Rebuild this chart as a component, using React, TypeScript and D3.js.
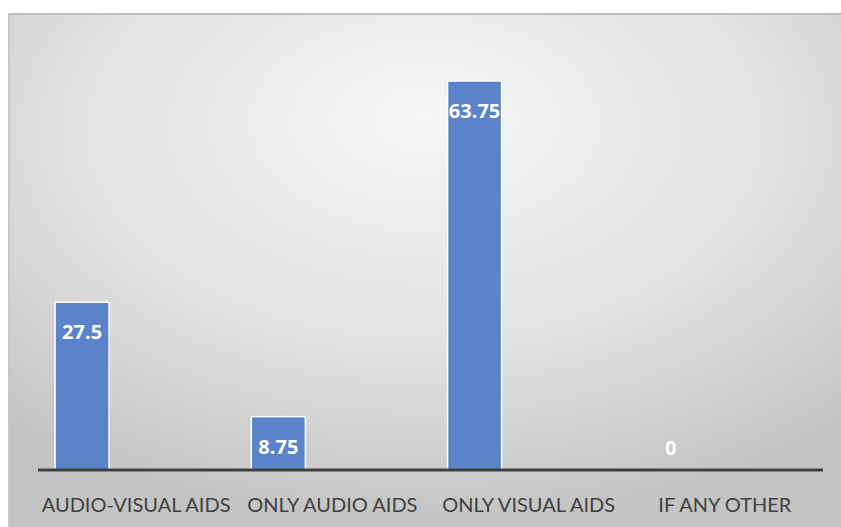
import React from "react";
import * as d3 from "d3";

const categories = ["AUDIO-VISUAL AIDS", "ONLY AUDIO AIDS", "ONLY VISUAL AIDS", "IF ANY OTHER"];
const values = [27.5, 8.75, 63.75, 0];
const valueLabels = ["27.5", "8.75", "63.75", "0"];

const W = 841;
const H = 527;
const plotLeft = 38;
const plotRight = 823;
const axisY = 470;

export default function App() {
  const x = d3.scaleBand<string>().domain(categories).range([plotLeft, plotRight]).paddingInner(0).paddingOuter(0);
  const y = d3.scaleLinear().domain([0, 63.75]).range([axisY, 81]);
  const bw = x.bandwidth();
  const gap = bw * 0.087;
  const barW = (bw - 2 * gap) / 3;

  return (
    <svg width={W} height={H} style={{ position: "absolute", left: 0, top: 0 }}>
      <defs>
        <radialGradient id="bg" cx="50%" cy="25%" r="75%" fx="50%" fy="20%">
          <stop offset="0%" stopColor="#f6f6f6" />
          <stop offset="55%" stopColor="#e2e2e2" />
          <stop offset="100%" stopColor="#c4c4c4" />
        </radialGradient>
      </defs>
      <rect x={8} y={13} width={W - 8} height={H - 13} fill="url(#bg)" />
      <line x1={8} x2={W} y1={14} y2={14} stroke="#bdbdbd" strokeWidth={2} />
      <line x1={9} x2={9} y1={13} y2={H} stroke="#c8c8c8" strokeWidth={2} />
      {categories.map((c, i) => {
        const bx = (x(c) as number) + gap;
        const by = y(values[i]);
        const cx = bx + barW / 2;
        return (
          <g key={c}>
            {values[i] > 0 && (
              <rect x={bx} y={by} width={barW} height={axisY - by} fill="#5b83c9" stroke="#ffffff" strokeWidth={1.5} />
            )}
            <text
              x={cx}
              y={values[i] > 0 ? by + 37 : axisY - 15}
              textAnchor="middle"
              fill="#ffffff"
              fontFamily="'Open Sans', Lato, sans-serif"
              fontWeight="bold"
              fontSize={20}
            >
              {valueLabels[i]}
            </text>
          </g>
        );
      })}
      <line x1={plotLeft} x2={plotRight} y1={axisY} y2={axisY} stroke="#404040" strokeWidth={3} />
      {categories.map((c) => (
        <text
          key={c + "l"}
          x={(x(c) as number) + bw / 2}
          y={512}
          textAnchor="middle"
          fill="#404040"
          fontFamily="Lato, 'Open Sans', sans-serif"
          fontSize={20}
        >
          {c}
        </text>
      ))}
    </svg>
  );
}
